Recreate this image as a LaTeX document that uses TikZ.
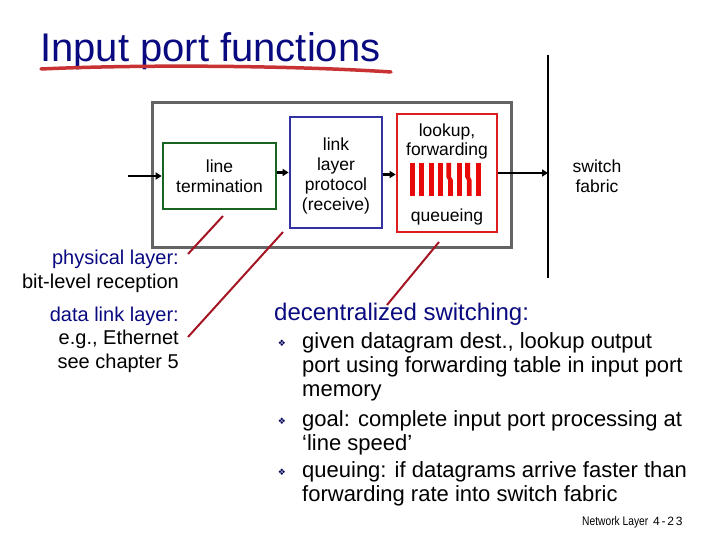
\documentclass[tikz,border=0pt]{standalone}
\usepackage{fontspec}
\setmainfont{Liberation Sans}
\newfontfamily\symfont{DejaVu Sans}
\newfontfamily\narrowfont[FakeStretch=0.82]{Liberation Sans}
\newfontfamily\spacedfont[LetterSpace=15]{Liberation Sans}
\usetikzlibrary{arrows.meta}
\definecolor{navy}{RGB}{10,10,128}
\definecolor{boxgray}{RGB}{100,100,100}
\definecolor{ltgreen}{RGB}{25,100,35}
\definecolor{llblue}{RGB}{50,50,165}
\definecolor{lfred}{RGB}{220,30,30}
\definecolor{barred}{RGB}{232,10,10}
\definecolor{pointred}{RGB}{165,20,35}
\definecolor{brushred}{RGB}{200,50,50}
\begin{document}
\begin{tikzpicture}[x=1pt,y=-1pt,
  boxtext/.style={font=\fontsize{17.5}{19.7}\selectfont, align=center, inner sep=0},
  fnbox/.style={draw, line width=2.7pt, inner sep=0},
  flow/.style={line width=2.5pt, -{Triangle[length=6pt,width=7pt]}},
  pointer/.style={draw=pointred, line width=2pt},
  lbl/.style={font=\fontsize{20}{24}\selectfont, anchor=base east, inner sep=0},
  bul/.style={font=\fontsize{22}{24}\selectfont, anchor=base west, inner sep=0},
  bulmark/.style={font=\symfont\fontsize{9}{9}\selectfont, text=navy!70!black, inner sep=0}
]
\useasboundingbox (0,0) rectangle (720,540);

% title
\node[font=\fontsize{40}{48}\selectfont, text=navy, anchor=base west, inner sep=0] (title) at (40,62) {Input port functions};
\draw[brushred, line width=3.5pt, line cap=round] (41,69) .. controls (150,64) and (300,66) .. (391,72);

% outer port box
\node[draw=boxgray, line width=3pt, minimum width=359pt, minimum height=144pt, inner sep=0] (port) at (331.5,175) {};

% function boxes
\node[fnbox, draw=ltgreen, minimum width=113pt, minimum height=66pt] (lt) at (219.5,176) {};
\node[boxtext] (lttext) at (219.5,176) {line\\termination};
\node[fnbox, draw=llblue, minimum width=92pt, minimum height=111pt] (llp) at (336,172.5) {};
\node[boxtext] (llptext) at (336,176) {link\\layer\\protocol\\(receive)};
\node[fnbox, draw=lfred, minimum width=100pt, minimum height=118pt] (lf) at (447,173) {};
\node[boxtext, font=\fontsize{17.5}{18.5}\selectfont] (lftext) at (447,141.5) {lookup,\\forwarding};
\node[boxtext, anchor=base] (queue) at (447,222) {queueing};

% queue bars
\foreach \i in {0,1,2,3,5,7}{
  \fill[barred] ({410+\i*9.4},163) rectangle ++(4.8,33);
}
\foreach \i in {4,6}{
  \fill[barred] ({410+\i*9.4-1.2},163) -- ++(4.8,0) -- ++(0,14) -- ++(1.6,3) -- ++(0,16) -- ++(-4.8,0) -- ++(0,-16) -- ++(-1.6,-3) -- cycle;
}

% switch fabric
\coordinate (fabtop) at (548,55);
\coordinate (fabbot) at (548,278);
\draw[line width=1.2pt] (fabtop) -- (fabbot);
\node[boxtext] (fabric) at (597,176) {switch\\fabric};

% flow arrows
\coordinate (in) at (128,176);
\draw[flow] (in) -- (lt.west |- in);
\draw[flow] (lt.east |- llp.west) -- (llp.west);
\draw[flow] ([yshift=-2pt]llp.east) -- ([yshift=-2pt]llp.east -| lf.west);
\draw[flow] (lf.east) -- (lf.east -| fabtop);

% left labels
\node[lbl, text=navy] (phys) at (179,264) {physical layer:};
\node[lbl] (phys2) at (179,288) {bit-level reception};
\node[lbl, text=navy] (dll) at (179,321) {data link layer:};
\node[lbl] (dll2) at (179,344) {e.g., Ethernet};
\node[lbl] (dll3) at (179,368) {see chapter 5};

% pointer lines
\coordinate (p1a) at (188,254); \coordinate (p1b) at (223,216);
\coordinate (p2a) at (188,337); \coordinate (p2b) at (283,232);
\coordinate (p3a) at (387,305); \coordinate (p3b) at (439,242);
\draw[pointer] (p1a) -- (p1b);
\draw[pointer] (p2a) -- (p2b);
\draw[pointer] (p3a) -- (p3b);

% decentralized switching
\node[font=\fontsize{24}{28}\selectfont, text=navy, anchor=base west, inner sep=0] (dec) at (274,320) {decentralized switching:};

\node[bulmark] (m1) at (282,343) {❖};
\node[bul] (b1a) at (302,348) {given datagram dest., lookup output};
\node[bul] (b1b) at (302,372) {port using forwarding table in input port};
\node[bul] (b1c) at (302,396) {memory};
\node[bulmark] (m2) at (282,421) {❖};
\node[bul] (b2a) at (302,426) {goal: complete input port processing at};
\node[bul] (b2b) at (302,450) {‘line speed’};
\node[bulmark] (m3) at (282,472) {❖};
\node[bul] (b3a) at (302,477) {queuing: if datagrams arrive faster than};
\node[bul] (b3b) at (302,501) {forwarding rate into switch fabric};

% footer
\node[font=\narrowfont\fontsize{12.5}{14}\selectfont, anchor=base west, inner sep=0] (foot) at (582,525) {Network Layer};
\node[font=\spacedfont\fontsize{12}{14}\selectfont, anchor=base west, inner sep=0] (foot2) at (653,525) {4-23};
\end{tikzpicture}
\end{document}
